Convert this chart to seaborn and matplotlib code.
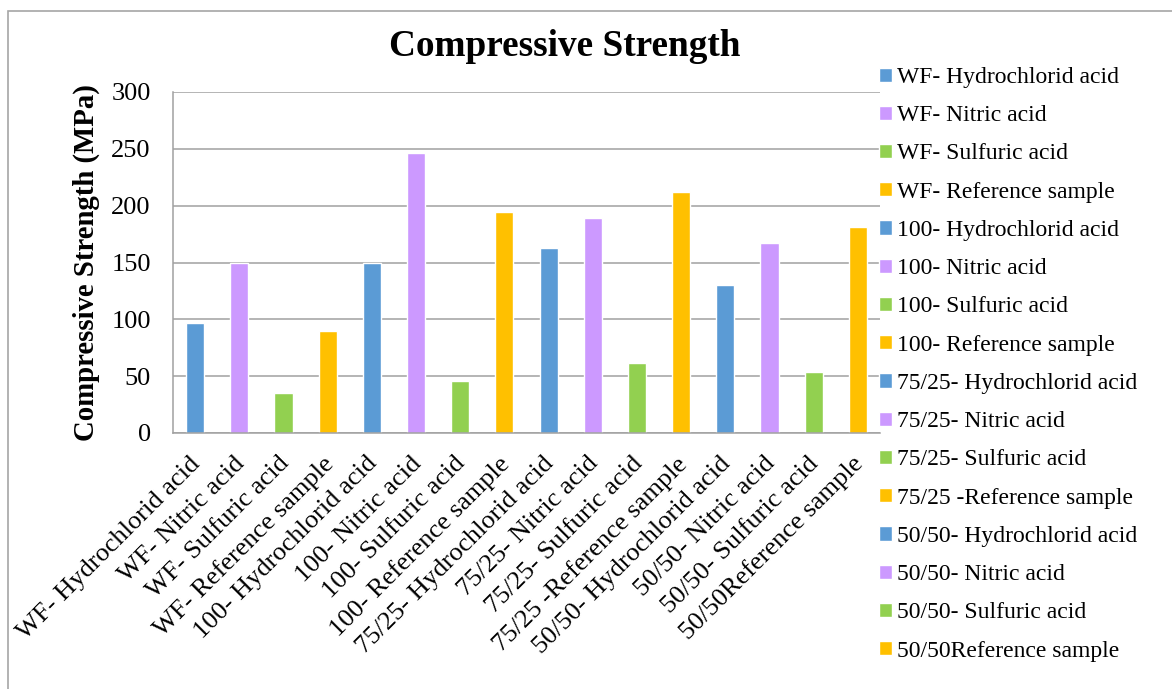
import matplotlib
matplotlib.use("Agg")
import matplotlib.pyplot as plt
import matplotlib.transforms as mtransforms
from matplotlib.patches import Rectangle
import seaborn as sns
import pandas as pd

categories = [
    "WF- Hydrochlorid acid", "WF- Nitric acid", "WF- Sulfuric acid", "WF- Reference sample",
    "100- Hydrochlorid acid", "100- Nitric acid", "100- Sulfuric acid", "100- Reference sample",
    "75/25- Hydrochlorid acid", "75/25- Nitric acid", "75/25- Sulfuric acid", "75/25 -Reference sample",
    "50/50- Hydrochlorid acid", "50/50- Nitric acid", "50/50- Sulfuric acid", "50/50Reference sample",
]
values = [97, 150, 35, 90, 150, 246, 46, 194, 163, 189, 62, 212, 130, 167, 54, 181]
base_colors = ["#5B9BD5", "#CC99FF", "#92D050", "#FFC000"]
colors = [base_colors[i % 4] for i in range(len(categories))]
yticks = [0, 50, 100, 150, 200, 250, 300]

sns.set_theme(style="white")
plt.rcParams['font.family'] = ['Liberation Serif', 'DejaVu Serif']
plt.rcParams['text.color'] = 'black'
plt.rcParams['axes.labelcolor'] = 'black'
plt.rcParams['xtick.color'] = 'black'
plt.rcParams['ytick.color'] = 'black'

W, H = 1172, 689
fig = plt.figure(figsize=(W / 100, H / 100), dpi=100)
fig.patches.append(Rectangle((8 / W, 0 - 0.02), (W + 20) / W, (H - 11) / H + 0.02,
                             transform=fig.transFigure, fill=False,
                             edgecolor="#A6A6A6", linewidth=1.2))
ax = fig.add_axes([173 / W, 1 - 433 / H, (880 - 173) / W, (433 - 92) / H])

df = pd.DataFrame({"cat": categories, "val": values})
sns.barplot(data=df, x="cat", y="val", hue="cat", palette=colors, dodge=False,
            width=0.41, ax=ax, saturation=1, legend=True)

ax.set_xlim(-0.5, len(categories) - 0.5)
ax.set_ylim(0, 300)
ax.set_yticks(yticks)
ax.set_yticklabels([str(t) for t in yticks], fontsize=19)
ax.yaxis.grid(True, color="#A0A0A0", linewidth=1.1)
ax.set_axisbelow(True)
for s in ["top", "right"]:
    ax.spines[s].set_visible(False)
for s in ["left", "bottom"]:
    ax.spines[s].set_color("#A0A0A0")
    ax.spines[s].set_linewidth(1.1)
ax.tick_params(axis="y", length=0, pad=16)
ax.tick_params(axis="x", length=0, pad=14)
ax.set_xlabel("")
ax.set_ylabel("Compressive Strength (MPa)", fontsize=20.7, fontweight="bold")
ax.yaxis.set_label_coords(-(173 - 100) / (880 - 173), 0.5)

ax.set_xticks(range(len(categories)))
ax.set_xticklabels(categories, rotation=45, ha="right", va="top",
                   rotation_mode="anchor", fontsize=19)
off = mtransforms.ScaledTranslation(-6 / 100, 0, fig.dpi_scale_trans)
for lbl in ax.get_xticklabels():
    lbl.set_transform(lbl.get_transform() + off)

fig.text(565 / W, 1 - 46 / H, "Compressive Strength", ha="center", va="center",
         fontsize=26.8, fontweight="bold")

handles, labels = ax.get_legend_handles_labels()
ax.legend(handles, labels, loc="upper left", bbox_to_anchor=(879 / W, 1 - 67 / H),
          bbox_transform=fig.transFigure, frameon=False, fontsize=17,
          handlelength=0.55, handleheight=0.55, handletextpad=0.22,
          labelspacing=0.73, borderpad=0, borderaxespad=0)

fig.savefig("out.png", dpi=100)
